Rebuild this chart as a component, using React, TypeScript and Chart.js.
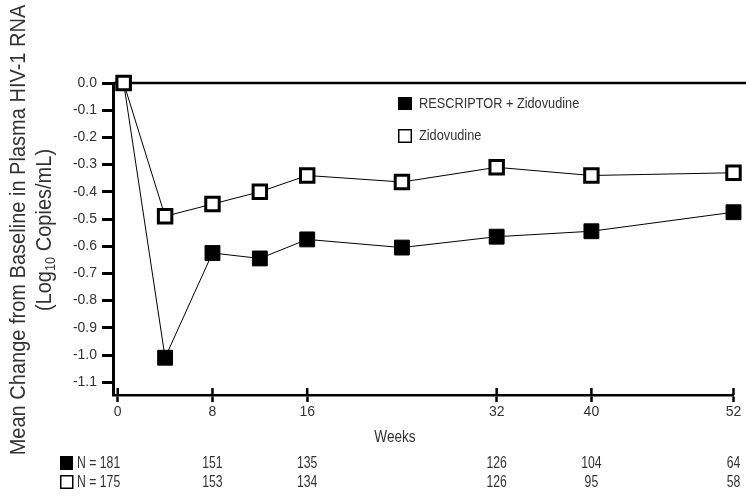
import { useEffect, useRef } from 'react';
import { Chart, registerables } from 'chart.js';

Chart.register(...registerables);

// ---- data ----
const weeks = [0.5, 4, 8, 12, 16, 24, 32, 40, 52];
const rescriptorZdv = [0, -1.01, -0.625, -0.645, -0.575, -0.605, -0.565, -0.545, -0.475];
const zidovudine = [0, -0.49, -0.445, -0.4, -0.34, -0.364, -0.31, -0.34, -0.33];
const seriesLabels = ['RESCRIPTOR + Zidovudine', 'Zidovudine'];
const xTicks = [0, 8, 16, 32, 40, 52];
const yTicks = [0, -0.1, -0.2, -0.3, -0.4, -0.5, -0.6, -0.7, -0.8, -0.9, -1.0, -1.1];
const nWeeks = [0, 8, 16, 32, 40, 52];
const nRescriptor = [181, 151, 135, 126, 104, 64];
const nZidovudine = [175, 153, 134, 126, 95, 58];
const yTitleLine1 = 'Mean Change from Baseline in Plasma HIV-1 RNA';
const yTitleLine2 = ['(Log', '10', ' Copies/mL)'];
const xTitle = 'Weeks';

const FONT = '"Liberation Sans Narrow", "Liberation Sans", Arial, sans-serif';
const TEXT = '#333';

function narrowText(ctx: CanvasRenderingContext2D, text: string, x: number, y: number, align: CanvasTextAlign, sx = 0.85) {
  ctx.save();
  ctx.translate(x, y);
  ctx.scale(sx, 1);
  ctx.textAlign = align;
  ctx.fillText(text, 0, 0);
  ctx.restore();
}

const decor = {
  id: 'decor',
  beforeDatasetsDraw(chart: any) {
    const { ctx, chartArea, scales } = chart;
    const x = scales.x;
    const y = scales.y;
    ctx.save();
    ctx.strokeStyle = '#000';
    ctx.lineWidth = 2.5;
    const y0 = y.getPixelForValue(0);
    ctx.beginPath();
    ctx.moveTo(chartArea.left, y0);
    ctx.lineTo(chart.width, y0);
    ctx.stroke();
    xTicks.forEach((v) => {
      const px = x.getPixelForValue(v);
      ctx.beginPath();
      ctx.moveTo(px, chartArea.bottom);
      ctx.lineTo(px, chartArea.bottom - 7);
      ctx.stroke();
    });
    ctx.restore();
  },
  afterDraw(chart: any) {
    const { ctx, scales } = chart;
    const x = scales.x;
    ctx.save();
    ctx.fillStyle = TEXT;
    ctx.textBaseline = 'middle';

    // y-axis title
    const TS = 0.91;
    ctx.save();
    ctx.translate(19, 230);
    ctx.rotate(-Math.PI / 2);
    ctx.scale(TS, 1);
    ctx.textAlign = 'center';
    ctx.font = `22px ${FONT}`;
    ctx.fillText(yTitleLine1, 0, 0);
    ctx.restore();

    ctx.save();
    ctx.translate(45, 230);
    ctx.rotate(-Math.PI / 2);
    ctx.scale(TS, 1);
    const big = `22px ${FONT}`;
    const small = `14px ${FONT}`;
    ctx.font = big;
    const w1 = ctx.measureText(yTitleLine2[0]).width;
    const w3 = ctx.measureText(yTitleLine2[2]).width;
    ctx.font = small;
    const w2 = ctx.measureText(yTitleLine2[1]).width;
    let cx = -(w1 + w2 + w3) / 2;
    ctx.textAlign = 'left';
    ctx.font = big;
    ctx.fillText(yTitleLine2[0], cx, 0);
    cx += w1;
    ctx.font = small;
    ctx.fillText(yTitleLine2[1], cx, 6);
    cx += w2;
    ctx.font = big;
    ctx.fillText(yTitleLine2[2], cx, 0);
    ctx.restore();

    // x title
    ctx.font = `17px ${FONT}`;
    narrowText(ctx, xTitle, 395, 437, 'center', 0.8);

    // legend
    ctx.font = `15px ${FONT}`;
    ctx.fillStyle = '#000';
    ctx.fillRect(398, 97, 14, 13);
    ctx.strokeStyle = '#000';
    ctx.lineWidth = 1.5;
    ctx.strokeRect(398.75, 129.75, 12.5, 12.5);
    ctx.fillStyle = TEXT;
    narrowText(ctx, seriesLabels[0], 419, 104, 'left', 0.85);
    narrowText(ctx, seriesLabels[1], 419, 136, 'left', 0.85);

    // N table
    ctx.font = `17px ${FONT}`;
    const rows = [
      { vals: nRescriptor, y: 463, filled: true },
      { vals: nZidovudine, y: 482, filled: false },
    ];
    rows.forEach((r) => {
      if (r.filled) {
        ctx.fillStyle = '#000';
        ctx.fillRect(60, r.y - 7, 13, 14);
      } else {
        ctx.strokeStyle = '#000';
        ctx.lineWidth = 1.5;
        ctx.strokeRect(60.75, r.y - 6.25, 12, 12.5);
      }
      ctx.fillStyle = TEXT;
      narrowText(ctx, `N = ${r.vals[0]}`, 77, r.y, 'left', 0.72);
      for (let i = 1; i < nWeeks.length; i++) {
        narrowText(ctx, String(r.vals[i]), x.getPixelForValue(nWeeks[i]), r.y, 'center', 0.72);
      }
    });
    ctx.restore();
  },
};

export default function App() {
  const ref = useRef<HTMLCanvasElement | null>(null);
  useEffect(() => {
    document.body.style.margin = '0';
    const canvas = ref.current;
    if (!canvas) return;
    const chart = new Chart(canvas, {
      type: 'line',
      data: {
        datasets: [
          {
            label: seriesLabels[0],
            data: weeks.map((w, i) => ({ x: w, y: rescriptorZdv[i] })),
            borderColor: '#000',
            borderWidth: 1,
            pointStyle: 'rect',
            pointRadius: 10.5,
            pointBackgroundColor: '#000',
            pointBorderColor: '#000',
            pointBorderWidth: 1,
            tension: 0,
            clip: false as any,
            order: 1,
          },
          {
            label: seriesLabels[1],
            data: weeks.map((w, i) => ({ x: w, y: zidovudine[i] })),
            borderColor: '#000',
            borderWidth: 1,
            pointStyle: 'rect',
            pointRadius: 9.5,
            pointBackgroundColor: '#fff',
            pointBorderColor: '#000',
            pointBorderWidth: 3,
            tension: 0,
            clip: false as any,
            order: 0,
          },
        ],
      },
      options: {
        animation: false,
        responsive: false,
        layout: { padding: { top: 83, right: 12, left: 0, bottom: 0 } },
        plugins: {
          legend: { display: false },
          tooltip: { enabled: false },
        },
        scales: {
          x: {
            type: 'linear',
            min: -0.4,
            max: 52,
            afterBuildTicks: (s: any) => {
              s.ticks = xTicks.map((v) => ({ value: v }));
            },
            afterFit: (s: any) => {
              s.height = 101;
            },
            ticks: {
              font: { family: FONT, size: 14 },
              color: TEXT,
              padding: 2,
              maxRotation: 0,
              autoSkip: false,
              callback: (v: any) => String(v),
            },
            grid: {
              drawOnChartArea: false,
              drawTicks: true,
              tickLength: 7,
              tickWidth: 2.5,
              tickColor: '#000',
            },
            border: { display: true, color: '#000', width: 2.5 },
          },
          y: {
            type: 'linear',
            min: -1.147,
            max: 0,
            afterBuildTicks: (s: any) => {
              s.ticks = yTicks.map((v) => ({ value: v }));
            },
            afterFit: (s: any) => {
              s.width = 113;
            },
            ticks: {
              font: { family: FONT, size: 14 },
              color: TEXT,
              padding: 5,
              autoSkip: false,
              callback: (v: any) => Number(v).toFixed(1),
            },
            grid: {
              drawOnChartArea: false,
              drawTicks: true,
              tickLength: 11,
              tickWidth: 3,
              tickColor: '#000',
            },
            border: { display: true, color: '#000', width: 3 },
          },
        },
      },
      plugins: [decor],
    });
    return () => chart.destroy();
  }, []);
  return <canvas ref={ref} width={746} height={496} style={{ display: 'block' }} />;
}
